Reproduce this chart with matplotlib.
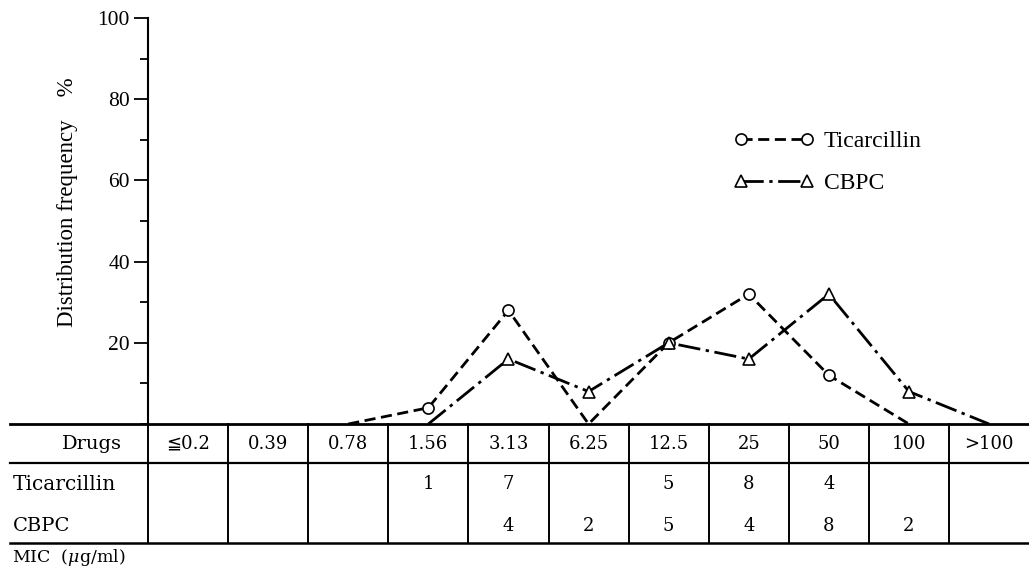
import numpy as np
import matplotlib
matplotlib.use('Agg')
import matplotlib.pyplot as plt
from matplotlib.ticker import MultipleLocator

# ──── Data ─────────────────────────────────────────────────────
MIC_LABELS = ['≦0.2', '0.39', '0.78', '1.56', '3.13', '6.25',
              '12.5', '25', '50', '100', '>100']
TIC_PCT  = [np.nan, np.nan, 0, 4, 28, 0, 20, 32, 12, 0, np.nan]
CBPC_PCT = [np.nan, np.nan, np.nan, 0, 16, 8, 20, 16, 32, 8, 0]
TIC_N  = ['', '', '', '1', '7', '', '5', '8', '4', '', '']
CBPC_N = ['', '', '', '', '4', '2', '5', '4', '8', '2', '']

# ──── Layout (pixels of the 1029x572 target) ───────────────────
W, H = 1029, 572
PX_LEFT, PX_TOP, PX_BASE = 148, 18, 424
COL = 80.1                     # px per MIC column
PX_PER_PCT = (PX_BASE - PX_TOP) / 100.0

SERIF = ['Liberation Serif', 'DejaVu Serif']
TABF = ['DejaVu Serif', 'DejaVu Sans']
plt.rcParams['mathtext.fontset'] = 'dejavuserif'


def px2x(px):
    return (px - PX_LEFT) / COL - 0.5


def px2y(py):
    return -(py - PX_BASE) / PX_PER_PCT


fig = plt.figure(figsize=(W / 100, H / 100), dpi=100)
ax = fig.add_axes([PX_LEFT / W, (H - PX_BASE) / H,
                   (W - PX_LEFT) / W, (PX_BASE - PX_TOP) / H])
x = np.arange(len(MIC_LABELS))
xr = px2x(W)
ax.set_xlim(-0.5, xr)
ax.set_ylim(0, 100)

for s in ('top', 'right', 'bottom'):
    ax.spines[s].set_visible(False)
ax.spines['left'].set_linewidth(1.5)
ax.set_xticks([])
ax.yaxis.set_major_locator(MultipleLocator(20))
ax.yaxis.set_minor_locator(MultipleLocator(10))
ax.set_yticks([20, 40, 60, 80, 100])
ax.set_yticklabels(['20', '40', '60', '80', '100'], family=SERIF, fontsize=15.5)
ax.tick_params(axis='y', which='major', length=10, width=1.3, pad=3)
ax.tick_params(axis='y', which='minor', length=6, width=1.3)

# ──── Series ───────────────────────────────────────────────────
tic = np.array(TIC_PCT, dtype=float)
cb = np.array(CBPC_PCT, dtype=float)
tic_m = np.array([n != '' for n in TIC_N])
cb_m = np.array([n != '' for n in CBPC_N])

TIC_LS = (0, (4, 2))
CB_LS = (0, (8, 2, 1.2, 2))
ax.plot(x, tic, color='black', lw=2.0, ls=TIC_LS, clip_on=False, zorder=3)
ax.plot(x[tic_m], tic[tic_m], ls='none', marker='o', ms=8, mfc='white',
        mec='black', mew=1.2, clip_on=False, zorder=4)
ax.plot(x, cb, color='black', lw=2.0, ls=CB_LS, clip_on=False, zorder=3)
ax.plot(x[cb_m], cb[cb_m], ls='none', marker='^', ms=8, mfc='white',
        mec='black', mew=1.2, clip_on=False, zorder=4)

# legend
h1, = ax.plot([], [], color='black', lw=2.0, ls=TIC_LS, marker='o', ms=8,
              mfc='white', mec='black', mew=1.2)
h2, = ax.plot([], [], color='black', lw=2.0, ls=CB_LS, marker='^', ms=8,
              mfc='white', mec='black', mew=1.2)
ax.legend([h1, h2], ['Ticarcillin', 'CBPC'], loc='upper left',
          bbox_to_anchor=(713 / W, 1 - 109 / H), bbox_transform=fig.transFigure,
          frameon=False, numpoints=2, handlelength=3.4, handletextpad=0.4,
          labelspacing=0.87, prop={'family': SERIF, 'size': 17})

fig.text(68 / W, 1 - 202 / H, 'Distribution frequency    %', rotation=90,
         ha='center', va='center', family=SERIF, fontsize=16.5)

# ──── Table under the axis ─────────────────────────────────────
kw = dict(color='black', clip_on=False)
x0 = px2x(10)
y_mid = px2y(463)
y_bot = px2y(543)
ax.plot([x0, xr], [0, 0], lw=2.0, **kw)
ax.plot([x0, xr], [y_mid, y_mid], lw=1.6, **kw)
ax.plot([x0, xr], [y_bot, y_bot], lw=1.8, **kw)
for i in range(len(MIC_LABELS)):
    ax.plot([i - 0.5, i - 0.5], [0, y_bot], lw=1.4, **kw)

y_head, y_tic, y_cb = px2y(444), px2y(484), px2y(526)
ax.text(px2x(92), y_head, 'Drugs', ha='center', va='center', family=TABF, fontsize=14)
ax.text(px2x(13), y_tic, 'Ticarcillin', ha='left', va='center', family=TABF, fontsize=14.5)
ax.text(px2x(13), y_cb, 'CBPC', ha='left', va='center', family=TABF, fontsize=14)
for i, lab in enumerate(MIC_LABELS):
    ax.text(i, y_head, lab, ha='center', va='center', family=TABF, fontsize=13)
    ax.text(i, y_tic, TIC_N[i], ha='center', va='center', family=TABF, fontsize=13)
    ax.text(i, y_cb, CBPC_N[i], ha='center', va='center', family=TABF, fontsize=13)

fig.text(12 / W, 1 - 557 / H, r'MIC  ($\mu$g/ml)', ha='left', va='center',
         family=TABF, fontsize=12.5)

fig.savefig('out.png', dpi=100)
